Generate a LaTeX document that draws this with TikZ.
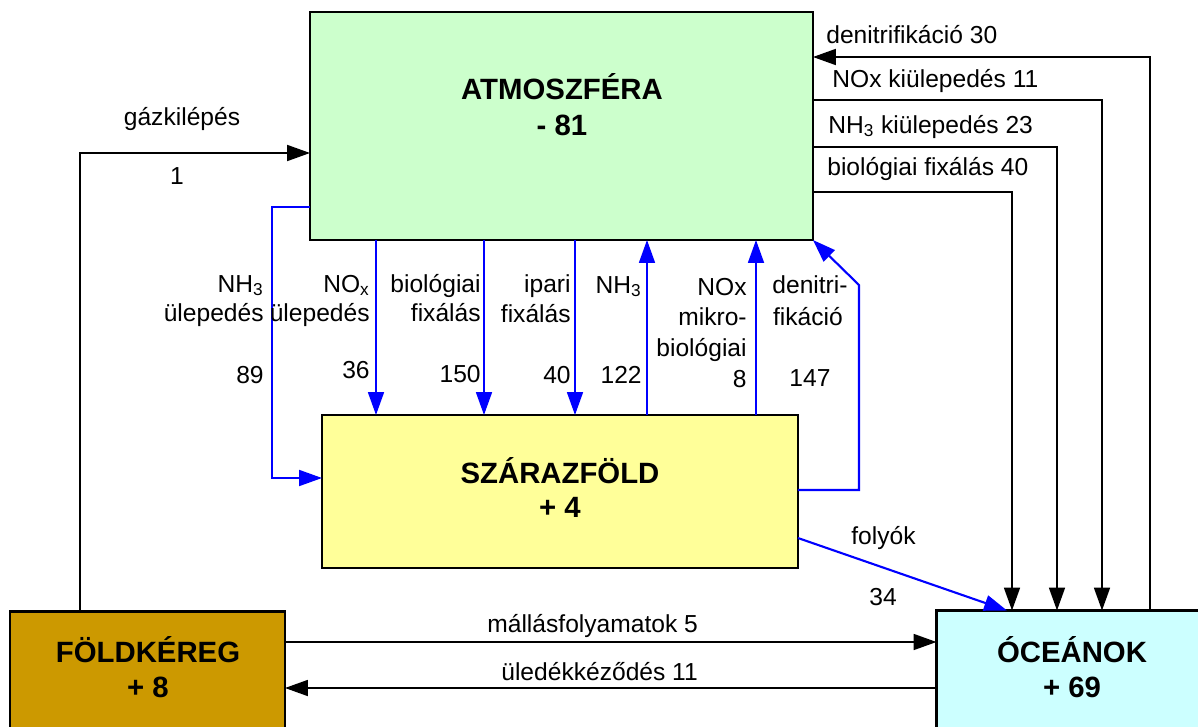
\documentclass[tikz,border=0pt]{standalone}
\usepackage{fontspec}
\setmainfont{Liberation Sans}
\usetikzlibrary{arrows.meta}
\definecolor{atmc}{HTML}{CCFFCC}
\definecolor{landc}{HTML}{FFFF99}
\definecolor{crustc}{HTML}{CC9900}
\definecolor{oceanc}{HTML}{CCFFFF}
\definecolor{flowblue}{HTML}{0000FF}
\newcommand{\lowsub}[1]{\textsubscript{#1}}
\tikzset{
  box/.style={draw=black, line width=1.2pt, inner sep=0pt, outer sep=0pt},
  flowk/.style={draw=black, line width=1.2pt},
  flowb/.style={draw=flowblue, line width=1.2pt},
  tip/.style={-{Triangle[length=13pt,width=9pt]}},
  lbl/.style={inner sep=0pt, font=\fontsize{14}{17}\selectfont},
  ttl/.style={inner sep=0pt, font=\fontsize{16.7}{20}\selectfont\bfseries}
}
\begin{document}
\begin{tikzpicture}[x=0.02cm,y=-0.02cm]
\useasboundingbox (0,0) rectangle (1198,727);
% boxes
\node[box, fill=atmc, minimum width=10.06cm, minimum height=4.56cm] (atm) at (561.5,126) {};
\node[box, fill=landc, minimum width=9.52cm, minimum height=3.06cm] (land) at (560,491.5) {};
\node[box, fill=crustc, minimum width=5.5cm, minimum height=2.7cm] (crust) at (147.5,679) {};
\node[box, fill=oceanc, minimum width=6.3cm, minimum height=2.7cm] (ocean) at (1094,678) {};
% titles
\node[ttl, anchor=base] (t1) at (562,99) {ATMOSZFÉRA};
\node[ttl, anchor=base] (t2) at (562,135) {- 81};
\node[ttl, anchor=base] (t3) at (560,483) {SZÁRAZFÖLD};
\node[ttl, anchor=base] (t4) at (560,517) {+ 4};
\node[ttl, anchor=base] (t5) at (148,662) {FÖLDKÉREG};
\node[ttl, anchor=base] (t6) at (148,697) {+ 8};
\node[ttl, anchor=base] (t7) at (1072,662) {ÓCEÁNOK};
\node[ttl, anchor=base] (t8) at (1072,697) {+ 69};
% black connectors (right side)
\draw[flowk, tip] (ocean.north -| 1150,0) |- (atm.east |- 0,57);
\draw[flowk, tip] (atm.east |- 0,100) -| (ocean.north -| 1102,0);
\draw[flowk, tip] (atm.east |- 0,147) -| (ocean.north -| 1057,0);
\draw[flowk, tip] (atm.east |- 0,192) -| (ocean.north -| 1012,0);
% gas release
\draw[flowk, tip] (crust.north -| 80,0) |- (atm.west |- 0,153);
% weathering / sedimentation
\draw[flowk, tip] (crust.east |- 0,642) -- (ocean.west |- 0,642);
\draw[flowk, tip] (ocean.west |- 0,688) -- (crust.east |- 0,688);
% blue connectors
\draw[flowb, tip] (atm.west |- 0,207) -- (272,207) |- (land.west |- 0,478);
\draw[flowb, tip] (atm.south -| 376,0) -- (land.north -| 376,0);
\draw[flowb, tip] (atm.south -| 484,0) -- (land.north -| 484,0);
\draw[flowb, tip] (atm.south -| 575,0) -- (land.north -| 575,0);
\draw[flowb, tip] (land.north -| 647,0) -- (atm.south -| 647,0);
\draw[flowb, tip] (land.north -| 756,0) -- (atm.south -| 756,0);
\draw[flowb, tip] (land.east |- 0,490) -- (859,490) -- (859,285) -- (atm.south east);
\draw[flowb, tip] (land.east |- 0,538) -- (ocean.north -| 1007,0);
% right labels
\node[lbl, anchor=base west] (r1) at (826,43) {denitrifikáció 30};
\node[lbl, anchor=base west] (r2) at (832,87) {NOx kiülepedés 11};
\node[lbl, anchor=base west] (r3) at (828,133) {NH\lowsub{3} kiülepedés 23};
\node[lbl, anchor=base west] (r4) at (827,175) {biológiai fixálás 40};
% left labels
\node[lbl, anchor=base] (g1) at (182,125) {gázkilépés};
\node[lbl, anchor=base] (g2) at (177,184) {1};
% vertical flow labels
\node[lbl, anchor=base east] (a1) at (264,292) {NH\lowsub{3}};
\node[lbl, anchor=base east] (a2) at (264,321) {ülepedés};
\node[lbl, anchor=base east] (a3) at (264,383) {89};
\node[lbl, anchor=base east] (b1) at (370,292) {NO\lowsub{x}};
\node[lbl, anchor=base east] (b2) at (370,321) {ülepedés};
\node[lbl, anchor=base east] (b3) at (370,378) {36};
\node[lbl, anchor=base east] (c1) at (481,292) {biológiai};
\node[lbl, anchor=base east] (c2) at (481,321) {fixálás};
\node[lbl, anchor=base east] (c3) at (481,382) {150};
\node[lbl, anchor=base east] (d1) at (571,292) {ipari};
\node[lbl, anchor=base east] (d2) at (571,322) {fixálás};
\node[lbl, anchor=base east] (d3) at (571,383) {40};
\node[lbl, anchor=base east] (e1) at (642,293) {NH\lowsub{3}};
\node[lbl, anchor=base east] (e2) at (642,383) {122};
\node[lbl, anchor=base east] (f1) at (747,295) {NOx};
\node[lbl, anchor=base east] (f2) at (747,325) {mikro-};
\node[lbl, anchor=base east] (f3) at (747,356) {biológiai};
\node[lbl, anchor=base east] (f4) at (747,387) {8};
\node[lbl, anchor=base] (h1) at (810,293) {denitri-};
\node[lbl, anchor=base] (h2) at (808,325) {fikáció};
\node[lbl, anchor=base] (h3) at (810,386) {147};
% river labels
\node[lbl, anchor=base west] (k1) at (851,544) {folyók};
\node[lbl, anchor=base west] (k2) at (869,605) {34};
% bottom labels
\node[lbl, anchor=base west] (m1) at (487,632) {mállásfolyamatok 5};
\node[lbl, anchor=base west] (m2) at (501,680) {üledékkéződés 11};
\end{tikzpicture}
\end{document}
